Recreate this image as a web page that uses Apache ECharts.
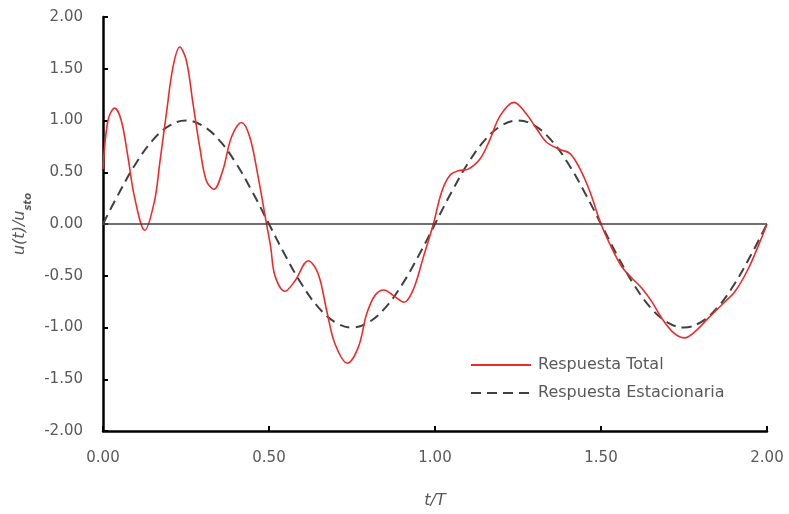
<!DOCTYPE html>
<html>
<head>
<meta charset="utf-8">
<script src="https://cdn.jsdelivr.net/npm/echarts@6/dist/echarts.min.js"></script>
<style>html,body{margin:0;padding:0;background:#fff;}#c{width:789px;height:514px;}</style>
</head>
<body>
<div id="c"></div>
<script>
// Respuesta Total: (t/T, u/ust)
var tTotal = [0.000,0.015,0.035,0.055,0.075,0.095,0.126,0.155,0.171,0.191,0.211,0.231,0.251,0.271,0.291,0.311,0.334,0.361,0.387,0.417,0.442,0.467,0.492,0.505,0.518,0.548,0.578,0.618,0.648,0.674,0.699,0.736,0.769,0.794,0.819,0.846,0.874,0.907,0.935,0.965,0.995,1.020,1.045,1.070,1.100,1.136,1.166,1.196,1.238,1.276,1.306,1.336,1.377,1.407,1.437,1.467,1.500,1.532,1.562,1.592,1.623,1.653,1.683,1.718,1.751,1.783,1.823,1.864,1.904,1.944,1.979,2.000];
var uTotal = [0.53,1.00,1.12,1.00,0.65,0.26,-0.06,0.22,0.59,1.07,1.52,1.71,1.58,1.165,0.75,0.42,0.335,0.52,0.84,0.98,0.84,0.46,0.01,-0.22,-0.50,-0.65,-0.55,-0.355,-0.48,-0.84,-1.16,-1.345,-1.19,-0.87,-0.69,-0.637,-0.69,-0.756,-0.63,-0.32,0.00,0.31,0.47,0.515,0.53,0.63,0.82,1.045,1.175,1.06,0.92,0.79,0.72,0.68,0.53,0.31,0.00,-0.23,-0.41,-0.52,-0.62,-0.75,-0.91,-1.05,-1.10,-1.04,-0.91,-0.78,-0.65,-0.43,-0.17,0.00];
// Respuesta Estacionaria
var tStat = [0.00,0.05,0.10,0.15,0.20,0.25,0.30,0.35,0.40,0.45,0.50,0.55,0.60,0.65,0.70,0.75,0.80,0.85,0.90,0.95,1.00,1.05,1.10,1.15,1.20,1.25,1.30,1.35,1.40,1.45,1.50,1.55,1.60,1.65,1.70,1.75,1.80,1.85,1.90,1.95,2.00];
var uStat = [0.00,0.31,0.59,0.81,0.95,1.00,0.95,0.81,0.59,0.31,0.00,-0.31,-0.59,-0.81,-0.95,-1.00,-0.95,-0.81,-0.59,-0.31,0.00,0.31,0.59,0.81,0.95,1.00,0.95,0.81,0.59,0.31,0.00,-0.31,-0.59,-0.81,-0.95,-1.00,-0.95,-0.81,-0.59,-0.31,0.00];
var xTicks = {min:0, max:2, interval:0.5};
var yTicks = {min:-2, max:2, interval:0.5};
var names = ['Respuesta Total','Respuesta Estacionaria'];

function pairs(a,b){return a.map(function(v,i){return [v,b[i]];});}
var FONT = '"DejaVu Sans", sans-serif';
var chart = echarts.init(document.getElementById('c'), null, {renderer:'canvas'});
var axisCommon = {
  axisLine:{show:true, onZero:false, lineStyle:{color:'#000', width:2.5}},
  axisTick:{show:true, inside:true, length:5, lineStyle:{color:'#000', width:2}},
  splitLine:{show:false},
  axisLabel:{color:'#595959', fontSize:15, fontFamily:FONT, margin:20, formatter:function(v){return v.toFixed(2);}}
};
chart.setOption({
  animation:false,
  backgroundColor:'#fff',
  grid:{left:103, right:22, top:17, bottom:83, containLabel:false},
  legend:{
    orient:'vertical', left:470, top:357, itemWidth:60, itemHeight:14, itemGap:12, padding:0,
    itemStyle:{opacity:0},
    textStyle:{color:'#595959', fontSize:16, fontFamily:FONT, padding:[0,0,0,2]},
    data:names
  },
  xAxis:Object.assign({type:'value', min:xTicks.min, max:xTicks.max, interval:xTicks.interval,
    name:'t/T', nameLocation:'middle', nameGap:62,
    nameTextStyle:{color:'#595959', fontSize:16, fontStyle:'italic', fontFamily:FONT}}, axisCommon),
  yAxis:Object.assign({type:'value', min:yTicks.min, max:yTicks.max, interval:yTicks.interval,
    name:'{i|u(t)/u}{s|sto}', nameLocation:'middle', nameGap:70,
    nameTextStyle:{color:'#595959', fontFamily:FONT,
      rich:{i:{fontSize:16, fontStyle:'italic', color:'#595959', fontFamily:FONT, lineHeight:22, verticalAlign:'bottom'},
            s:{fontSize:10, fontStyle:'italic', fontWeight:'bold', color:'#595959', fontFamily:FONT, lineHeight:14, verticalAlign:'bottom', padding:[0,0,-5,0]}}}}, axisCommon),
  series:[
    {name:names[0], type:'line', data:pairs(tTotal,uTotal), smooth:0.35, symbol:'none', z:3,
     lineStyle:{color:'#ee2b2b', width:1.6}, itemStyle:{color:'#ee2b2b'},
     markLine:{silent:true, symbol:'none', label:{show:false}, data:[{yAxis:0}], lineStyle:{color:'#404040', width:1.5, type:'solid'}}},
    {name:names[1], type:'line', data:pairs(tStat,uStat), smooth:0.4, symbol:'none', z:2,
     lineStyle:{color:'#404040', width:2, type:[10,6]}, itemStyle:{color:'#404040'}}
  ]
});
</script>
</body>
</html>
